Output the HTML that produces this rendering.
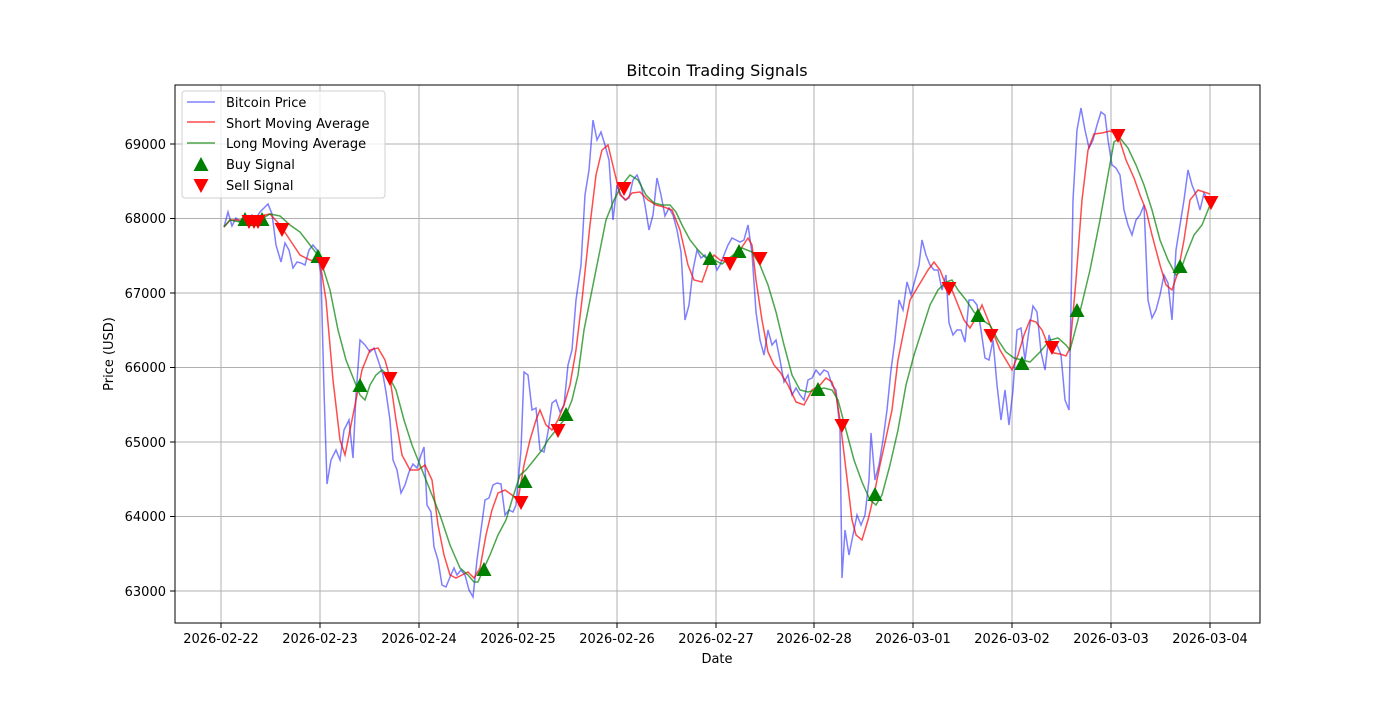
<!DOCTYPE html>
<html><head><meta charset="utf-8"><style>
body{margin:0;background:#fff}
svg text{font-family:"DejaVu Sans","Liberation Sans",sans-serif;fill:#000}
</style></head><body>
<svg width="1400" height="700" viewBox="0 0 1400 700" xmlns="http://www.w3.org/2000/svg">
<defs>
<polygon id="up" points="0,-8 7.5,6 -7.5,6" fill="#008000"/>
<polygon id="dn" points="0,8 7.5,-6 -7.5,-6" fill="#ff0000"/>
</defs>
<rect width="1400" height="700" fill="#fff"/>
<g stroke="#b0b0b0" stroke-width="1">
<line x1="221" y1="85" x2="221" y2="623"/><line x1="320" y1="85" x2="320" y2="623"/><line x1="419" y1="85" x2="419" y2="623"/><line x1="518" y1="85" x2="518" y2="623"/><line x1="617" y1="85" x2="617" y2="623"/><line x1="716" y1="85" x2="716" y2="623"/><line x1="814" y1="85" x2="814" y2="623"/><line x1="913" y1="85" x2="913" y2="623"/><line x1="1012" y1="85" x2="1012" y2="623"/><line x1="1111" y1="85" x2="1111" y2="623"/><line x1="1210" y1="85" x2="1210" y2="623"/>
<line x1="175" y1="591" x2="1260" y2="591"/><line x1="175" y1="516.5" x2="1260" y2="516.5"/><line x1="175" y1="442" x2="1260" y2="442"/><line x1="175" y1="367.5" x2="1260" y2="367.5"/><line x1="175" y1="293" x2="1260" y2="293"/><line x1="175" y1="218.5" x2="1260" y2="218.5"/><line x1="175" y1="144" x2="1260" y2="144"/>
</g>
<polyline fill="none" stroke="#0000ff" stroke-opacity="0.5" stroke-width="1.5" points="224,227 228,212 232,226 236,218 240,222 244,216 248,222 252,215 256,218 260,212 264,208 268,204 272,214 276,245 281,262 285,243 289,250 293,268 297,262 301,263 305,265 309,250 313,245 317,250 321,275 324,390 327,484 331,460 336,450 340,460 344,430 349,420 353,458 356,395 360,340 365,345 370,352 374,348 378,360 383,375 386,392 390,420 393,460 397,470 401,493 405,485 409,472 413,464 417,468 421,455 424,447 427,505 431,512 434,547 438,560 442,585 446,587 450,577 454,568 457,575 461,570 465,575 469,590 473,597 477,560 481,530 485,500 489,498 493,485 497,483 501,484 505,515 509,510 513,512 516,505 521,450 524,372 528,375 532,410 536,408 540,450 544,452 548,432 552,403 556,400 560,412 564,405 568,365 572,350 576,300 581,265 585,195 589,170 593,120 597,140 601,132 605,145 609,160 613,220 617,185 621,195 625,200 629,198 633,180 637,175 641,185 645,205 649,230 653,215 657,178 661,195 665,216 669,208 673,215 677,230 681,252 685,320 689,305 693,270 697,250 701,258 705,255 709,262 713,258 717,270 720,265 724,255 728,245 732,238 736,240 740,242 744,240 748,225 752,253 756,312 760,340 764,355 768,330 772,345 776,340 780,360 784,382 788,375 792,395 796,388 800,395 804,400 808,380 812,378 816,370 820,375 824,370 828,372 832,385 836,390 840,430 842,578 845,530 849,555 853,535 857,515 861,525 865,515 869,480 871,433 875,480 879,465 883,440 887,410 891,370 895,340 899,300 903,310 907,282 911,295 915,280 919,265 922,240 926,255 930,265 934,270 938,270 942,290 946,275 949,323 953,335 957,330 961,330 965,342 969,300 973,300 977,305 981,330 985,358 989,360 993,340 997,385 1001,420 1005,390 1009,425 1013,390 1017,330 1021,328 1025,360 1029,330 1033,306 1037,312 1041,352 1045,370 1049,335 1053,348 1057,345 1061,355 1065,400 1069,410 1073,200 1077,130 1081,108 1085,130 1089,148 1093,140 1097,125 1101,112 1105,115 1108,140 1112,165 1116,168 1120,175 1124,210 1128,225 1132,235 1136,220 1140,215 1144,205 1148,300 1152,318 1156,310 1160,295 1164,275 1168,283 1172,320 1176,250 1180,225 1184,200 1188,170 1192,185 1196,195 1200,210 1204,193 1208,200"/>
<polyline fill="none" stroke="#ff0000" stroke-opacity="0.7" stroke-width="1.5" points="224,227 230,220 240,220 250,222 260,216 270,214 280,225 290,240 300,255 310,260 320,262 326,300 333,380 340,440 345,455 350,430 356,400 362,370 370,350 378,348 385,360 390,378 396,420 402,455 410,470 418,470 425,465 432,480 438,525 444,555 450,575 456,578 462,575 468,572 474,578 480,568 486,535 492,510 498,493 505,490 512,495 518,500 524,465 530,440 536,420 540,410 546,425 552,430 558,420 564,405 570,385 576,350 582,300 590,225 596,175 602,150 608,145 614,170 620,195 626,200 632,193 640,192 648,200 656,205 664,207 672,210 680,230 688,265 694,280 702,282 708,265 714,255 720,260 728,262 734,258 740,250 748,238 752,245 756,280 762,320 768,352 774,365 780,372 788,385 796,402 804,405 812,390 820,385 826,378 832,382 836,395 840,420 846,470 852,520 856,535 862,540 868,520 874,495 880,465 886,438 892,410 898,360 904,330 910,300 916,290 922,280 928,270 934,262 940,270 946,285 952,290 958,305 964,320 970,328 976,318 982,305 988,320 994,335 1000,350 1006,360 1012,370 1018,355 1024,335 1030,320 1036,322 1042,330 1048,345 1054,353 1060,354 1066,356 1070,348 1076,280 1082,200 1088,150 1094,134 1102,133 1110,131 1118,135 1126,160 1134,178 1140,195 1146,210 1152,235 1160,265 1166,285 1172,290 1178,272 1184,240 1190,200 1198,190 1210,194"/>
<polyline fill="none" stroke="#008000" stroke-opacity="0.7" stroke-width="1.5" points="224,227 230,220 240,222 250,220 260,220 270,214 280,216 290,225 300,232 310,245 320,258 330,290 338,330 346,360 354,380 360,395 365,400 370,385 376,375 382,370 388,375 396,390 404,420 412,445 420,465 430,490 440,515 450,545 460,568 468,575 474,582 478,582 484,568 490,555 498,535 506,520 512,500 520,475 526,470 534,460 542,450 548,440 556,430 564,420 572,400 578,375 584,330 592,290 600,250 606,220 614,200 622,185 630,175 638,180 646,195 654,203 662,205 670,205 676,212 682,225 690,240 698,250 706,258 714,260 722,264 732,256 742,248 752,252 760,265 768,285 776,312 784,345 792,375 800,390 808,392 816,390 824,388 832,390 838,400 846,430 854,460 862,482 870,500 876,505 882,495 890,465 898,430 906,385 914,355 922,330 930,305 938,290 946,282 952,280 958,290 966,300 974,312 982,320 990,325 998,340 1006,352 1014,358 1022,360 1030,362 1040,352 1050,340 1058,338 1066,345 1070,350 1078,320 1090,270 1100,220 1108,175 1114,142 1120,138 1128,148 1136,165 1144,185 1152,210 1160,240 1168,260 1176,275 1180,272 1186,255 1194,235 1202,225 1210,205"/>
<g>
<use href="#up" x="245" y="220"/><use href="#up" x="262" y="220"/><use href="#up" x="318" y="257"/><use href="#up" x="360" y="386"/><use href="#up" x="484" y="570"/><use href="#up" x="525" y="482"/><use href="#up" x="566" y="415"/><use href="#up" x="710" y="259"/><use href="#up" x="739" y="252"/><use href="#up" x="818" y="390"/><use href="#up" x="875" y="495"/><use href="#up" x="978" y="316"/><use href="#up" x="1022" y="364"/><use href="#up" x="1077" y="311"/><use href="#up" x="1180" y="267"/>
<use href="#dn" x="249" y="221"/><use href="#dn" x="254" y="221"/><use href="#dn" x="258" y="221"/><use href="#dn" x="282" y="229"/><use href="#dn" x="323" y="263"/><use href="#dn" x="390" y="378"/><use href="#dn" x="521" y="502"/><use href="#dn" x="558" y="430"/><use href="#dn" x="624" y="188"/><use href="#dn" x="730" y="263"/><use href="#dn" x="760" y="258"/><use href="#dn" x="842" y="425"/><use href="#dn" x="949" y="288"/><use href="#dn" x="991" y="335"/><use href="#dn" x="1052" y="347"/><use href="#dn" x="1118" y="135"/><use href="#dn" x="1211" y="202"/>
</g>
<rect x="175" y="85" width="1085" height="538" fill="none" stroke="#000" stroke-width="1"/>
<g stroke="#000"><line x1="221" y1="623" x2="221" y2="628"/><line x1="320" y1="623" x2="320" y2="628"/><line x1="419" y1="623" x2="419" y2="628"/><line x1="518" y1="623" x2="518" y2="628"/><line x1="617" y1="623" x2="617" y2="628"/><line x1="716" y1="623" x2="716" y2="628"/><line x1="814" y1="623" x2="814" y2="628"/><line x1="913" y1="623" x2="913" y2="628"/><line x1="1012" y1="623" x2="1012" y2="628"/><line x1="1111" y1="623" x2="1111" y2="628"/><line x1="1210" y1="623" x2="1210" y2="628"/>
<line x1="170" y1="591" x2="175" y2="591"/><line x1="170" y1="516.5" x2="175" y2="516.5"/><line x1="170" y1="442" x2="175" y2="442"/><line x1="170" y1="367.5" x2="175" y2="367.5"/><line x1="170" y1="293" x2="175" y2="293"/><line x1="170" y1="218.5" x2="175" y2="218.5"/><line x1="170" y1="144" x2="175" y2="144"/></g>
<g font-size="13" text-anchor="middle">
<text x="221" y="643">2026-02-22</text><text x="320" y="643">2026-02-23</text><text x="419" y="643">2026-02-24</text><text x="518" y="643">2026-02-25</text><text x="617" y="643">2026-02-26</text><text x="716" y="643">2026-02-27</text><text x="814" y="643">2026-02-28</text><text x="913" y="643">2026-03-01</text><text x="1012" y="643">2026-03-02</text><text x="1111" y="643">2026-03-03</text><text x="1210" y="643">2026-03-04</text>
<text x="717" y="663">Date</text>
<text x="717" y="76" font-size="16">Bitcoin Trading Signals</text>
</g>
<g font-size="13" text-anchor="end">
<text x="166" y="596">63000</text><text x="166" y="521">64000</text><text x="166" y="447">65000</text><text x="166" y="372">66000</text><text x="166" y="298">67000</text><text x="166" y="223">68000</text><text x="166" y="149">69000</text>
</g>
<text x="113" y="354" font-size="13" text-anchor="middle" transform="rotate(-90 113 354)">Price (USD)</text>
<rect x="182" y="91" width="203" height="107" rx="3" fill="#fff" fill-opacity="0.8" stroke="#d0d0d0"/>
<line x1="187" y1="102" x2="215" y2="102" stroke="#0000ff" stroke-opacity="0.5" stroke-width="1.5"/>
<line x1="187" y1="122" x2="215" y2="122" stroke="#ff0000" stroke-opacity="0.7" stroke-width="1.5"/>
<line x1="187" y1="143" x2="215" y2="143" stroke="#008000" stroke-opacity="0.7" stroke-width="1.5"/>
<use href="#up" x="201" y="165"/><use href="#dn" x="201" y="185"/>
<g font-size="13"><text x="226" y="107">Bitcoin Price</text><text x="226" y="128">Short Moving Average</text><text x="226" y="148">Long Moving Average</text><text x="226" y="169">Buy Signal</text><text x="226" y="190">Sell Signal</text></g>
</svg>
</body></html>
